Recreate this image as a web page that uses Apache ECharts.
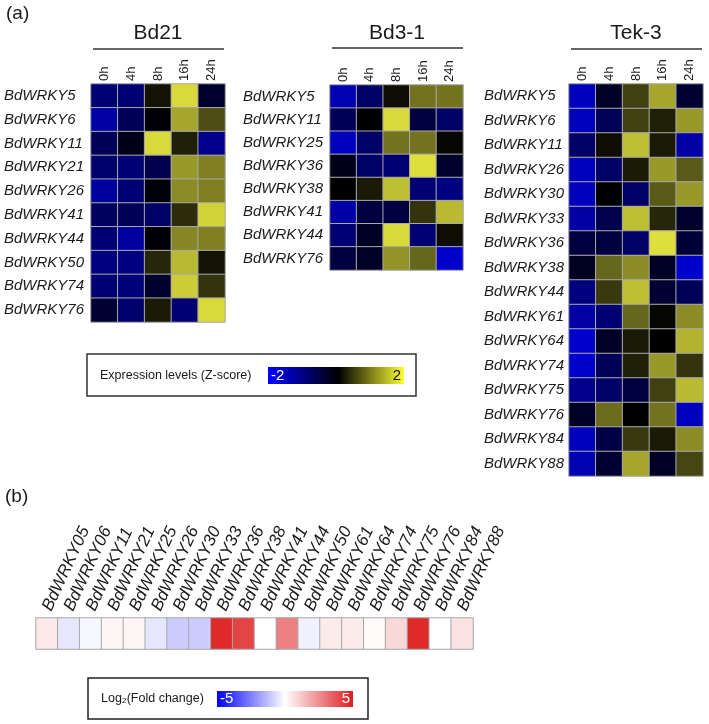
<!DOCTYPE html>
<html>
<head>
<meta charset="utf-8">
<script src="https://cdn.jsdelivr.net/npm/echarts@6/dist/echarts.min.js"></script>
<style>
html,body{margin:0;padding:0;background:#fff;}
#chart{width:709px;height:724px;}
</style>
</head>
<body>
<div id="chart"></div>
<script>
// ---------- DATA ----------
const times = ['0h', '4h', '8h', '16h', '24h'];

const bd21Genes = ['BdWRKY5','BdWRKY6','BdWRKY11','BdWRKY21','BdWRKY26','BdWRKY41','BdWRKY44','BdWRKY50','BdWRKY74','BdWRKY76'];
const bd21Values = [
  [-0.9, -0.9, 0.15, 1.7, -0.35],
  [-1.3, -0.7, -0.05, 1.3, 0.6],
  [-0.7, -0.2, 1.7, 0.25, -1.1],
  [-0.85, -0.9, -0.6, 1.2, 1.0],
  [-1.25, -0.9, -0.1, 1.1, 1.0],
  [-0.75, -0.7, -0.8, 0.35, 1.65],
  [-0.9, -1.25, -0.05, 1.05, 1.0],
  [-1.0, -1.0, 0.3, 1.45, 0.15],
  [-0.9, -0.95, -0.35, 1.6, 0.4],
  [-0.4, -0.85, 0.2, -0.9, 1.7]
];

const bd31Genes = ['BdWRKY5','BdWRKY11','BdWRKY25','BdWRKY36','BdWRKY38','BdWRKY41','BdWRKY44','BdWRKY76'];
const bd31Values = [
  [-1.4, -0.8, 0.1, 0.9, 0.9],
  [-0.7, 0.0, 1.7, -0.5, -0.8],
  [-1.5, -0.8, 0.9, 0.9, 0.05],
  [-0.2, -0.8, -0.9, 1.75, -0.35],
  [0.0, 0.2, 1.5, -0.9, -1.0],
  [-1.3, -0.5, -0.5, 0.4, 1.45],
  [-0.9, -0.3, 1.7, -0.9, 0.1],
  [-0.5, -0.3, 1.15, 0.8, -1.6]
];

const tekGenes = ['BdWRKY5','BdWRKY6','BdWRKY11','BdWRKY26','BdWRKY30','BdWRKY33','BdWRKY36','BdWRKY38','BdWRKY44','BdWRKY61','BdWRKY64','BdWRKY74','BdWRKY75','BdWRKY76','BdWRKY84','BdWRKY88'];
const tekValues = [
  [-1.5, -0.3, 0.5, 1.3, -0.4],
  [-1.5, -0.7, 0.5, 0.25, 1.2],
  [-0.8, 0.1, 1.5, 0.2, -1.3],
  [-1.5, -0.8, 0.2, 1.2, 0.7],
  [-1.5, 0.0, -0.8, 0.7, 1.2],
  [-1.3, -0.6, 1.5, 0.3, -0.35],
  [-0.5, -0.5, -0.8, 1.75, -0.45],
  [-0.25, 0.8, 1.1, -0.3, -1.6],
  [-1.0, 0.45, 1.5, -0.4, -0.7],
  [-1.3, -0.9, 0.8, 0.05, 1.1],
  [-1.6, -0.3, 0.2, 0.0, 1.4],
  [-1.6, -0.7, 0.25, 1.2, 0.4],
  [-1.1, -0.8, -0.5, 0.5, 1.45],
  [-0.3, 0.85, 0.0, 0.9, -1.5],
  [-1.5, -0.55, 0.45, 0.2, 1.1],
  [-1.4, -0.4, 1.3, -0.3, 0.55]
];

const fcGenes = ['BdWRKY05','BdWRKY06','BdWRKY11','BdWRKY21','BdWRKY25','BdWRKY26','BdWRKY30','BdWRKY33','BdWRKY36','BdWRKY38','BdWRKY41','BdWRKY44','BdWRKY50','BdWRKY61','BdWRKY64','BdWRKY74','BdWRKY75','BdWRKY76','BdWRKY84','BdWRKY88'];
const fcValues = [0.5, -0.5, -0.15, 0.2, 0.2, -0.5, -1.0, -1.0, 4.7, 4.1, 0.0, 2.8, -0.3, 0.45, 0.45, 0.1, 0.85, 4.7, 0.0, 0.65];

// ---------- BUILD ----------
const FONT = 'Liberation Sans, Arial, Helvetica, sans-serif';
const TXT = '#1a1a1a';

function toCells(vals) {
  const out = [];
  vals.forEach((row, r) => row.forEach((v, c) => out.push([c, r, v])));
  return out;
}

const grids = [
  { left: 91, top: 84, width: 134, height: 238 },
  { left: 330, top: 85, width: 133, height: 185 },
  { left: 569, top: 84, width: 134, height: 392 },
  { left: 36, top: 618, width: 437, height: 31 }
].map(g => Object.assign({ outerBoundsMode: 'none', containLabel: false }, g));

function timeAxis(i) {
  return {
    type: 'category', gridIndex: i, data: times, position: 'top',
    axisLine: { show: false }, axisTick: { show: false }, splitLine: { show: false },
    axisLabel: { rotate: -90, margin: 3, fontSize: 13, color: TXT, fontFamily: FONT, interval: 0 }
  };
}
function geneAxis(i, genes, margin) {
  return {
    type: 'category', gridIndex: i, data: genes, inverse: true,
    axisLine: { show: false }, axisTick: { show: false }, splitLine: { show: false },
    axisLabel: { align: 'left', margin: margin, fontSize: 15, fontStyle: 'italic', color: TXT, fontFamily: FONT, interval: 0 }
  };
}

const cellStyle = { borderColor: '#a8a8a8', borderWidth: 1 };

const option = {
  backgroundColor: '#ffffff',
  animation: false,
  grid: grids,
  xAxis: [
    timeAxis(0), timeAxis(1), timeAxis(2),
    {
      type: 'category', gridIndex: 3, data: fcGenes, position: 'top',
      axisLine: { show: false }, axisTick: { show: false }, splitLine: { show: false },
      axisLabel: { rotate: -65, margin: 8, fontSize: 17, fontStyle: 'italic', color: TXT, fontFamily: FONT, interval: 0 }
    }
  ],
  yAxis: [
    geneAxis(0, bd21Genes, 87),
    geneAxis(1, bd31Genes, 87),
    geneAxis(2, tekGenes, 85),
    { type: 'category', gridIndex: 3, data: ['FC'], show: false }
  ],
  visualMap: [
    { show: false, type: 'continuous', seriesIndex: [0, 1, 2], dimension: 2, min: -2, max: 2,
      inRange: { color: ['#0000ff', '#000000', '#ffff45'] } },
    { show: false, type: 'continuous', seriesIndex: [3], dimension: 2, min: -5, max: 5,
      inRange: { color: ['#0000ff', '#ffffff', '#dd1c1c'] } }
  ],
  series: [
    { type: 'heatmap', xAxisIndex: 0, yAxisIndex: 0, data: toCells(bd21Values), itemStyle: cellStyle, emphasis: { disabled: true } },
    { type: 'heatmap', xAxisIndex: 1, yAxisIndex: 1, data: toCells(bd31Values), itemStyle: cellStyle, emphasis: { disabled: true } },
    { type: 'heatmap', xAxisIndex: 2, yAxisIndex: 2, data: toCells(tekValues), itemStyle: cellStyle, emphasis: { disabled: true } },
    { type: 'heatmap', xAxisIndex: 3, yAxisIndex: 3, data: fcValues.map((v, i) => [i, 0, v]), itemStyle: cellStyle, emphasis: { disabled: true } }
  ],
  graphic: [
    { type: 'text', left: 6, top: 4, style: { text: '(a)', fontSize: 19, fill: TXT, fontFamily: FONT } },
    { type: 'text', left: 5, top: 487, style: { text: '(b)', fontSize: 19, fill: TXT, fontFamily: FONT } },
    // group titles
    { type: 'text', x: 158, y: 33, style: { text: 'Bd21', fontSize: 21, fill: TXT, fontFamily: FONT, align: 'center', verticalAlign: 'middle' } },
    { type: 'text', x: 397, y: 33, style: { text: 'Bd3-1', fontSize: 21, fill: TXT, fontFamily: FONT, align: 'center', verticalAlign: 'middle' } },
    { type: 'text', x: 636, y: 33, style: { text: 'Tek-3', fontSize: 21, fill: TXT, fontFamily: FONT, align: 'center', verticalAlign: 'middle' } },
    { type: 'line', shape: { x1: 93, y1: 49, x2: 224, y2: 49 }, style: { stroke: '#333', lineWidth: 1.5 } },
    { type: 'line', shape: { x1: 332, y1: 48, x2: 463, y2: 48 }, style: { stroke: '#333', lineWidth: 1.5 } },
    { type: 'line', shape: { x1: 571, y1: 49, x2: 702, y2: 49 }, style: { stroke: '#333', lineWidth: 1.5 } },
    // legend a
    { type: 'rect', shape: { x: 87, y: 354, width: 329, height: 42 }, style: { fill: '#fff', stroke: '#333', lineWidth: 1.5 } },
    { type: 'text', x: 100, y: 376, style: { text: 'Expression levels (Z-score)', fontSize: 12.5, fill: TXT, fontFamily: FONT, verticalAlign: 'middle' } },
    { type: 'rect', shape: { x: 268, y: 367, width: 136, height: 17 },
      style: { fill: new echarts.graphic.LinearGradient(0, 0, 1, 0, [
        { offset: 0, color: '#0000ff' }, { offset: 0.52, color: '#000000' }, { offset: 1, color: '#ffff33' }]) } },
    { type: 'text', x: 271, y: 376, style: { text: '-2', fontSize: 15, fill: '#fff', fontFamily: FONT, verticalAlign: 'middle' } },
    { type: 'text', x: 401, y: 376, style: { text: '2', fontSize: 15, fill: '#111', fontFamily: FONT, align: 'right', verticalAlign: 'middle' } },
    // legend b
    { type: 'rect', shape: { x: 88, y: 678, width: 280, height: 41 }, style: { fill: '#fff', stroke: '#222', lineWidth: 1.5 } },
    { type: 'text', x: 101, y: 699, style: { text: 'Log\u2082(Fold change)', fontSize: 12.5, fill: TXT, fontFamily: FONT, verticalAlign: 'middle' } },
    { type: 'rect', shape: { x: 217, y: 691, width: 136, height: 16 },
      style: { fill: new echarts.graphic.LinearGradient(0, 0, 1, 0, [
        { offset: 0, color: '#0000ff' }, { offset: 0.5, color: '#ffffff' }, { offset: 1, color: '#dd1c22' }]) } },
    { type: 'text', x: 220, y: 699, style: { text: '-5', fontSize: 15, fill: '#fff', fontFamily: FONT, verticalAlign: 'middle' } },
    { type: 'text', x: 350, y: 699, style: { text: '5', fontSize: 15, fill: '#fff', fontFamily: FONT, align: 'right', verticalAlign: 'middle' } }
  ]
};

const chart = echarts.init(document.getElementById('chart'), null, { renderer: 'canvas' });
chart.setOption(option);
</script>
</body>
</html>
